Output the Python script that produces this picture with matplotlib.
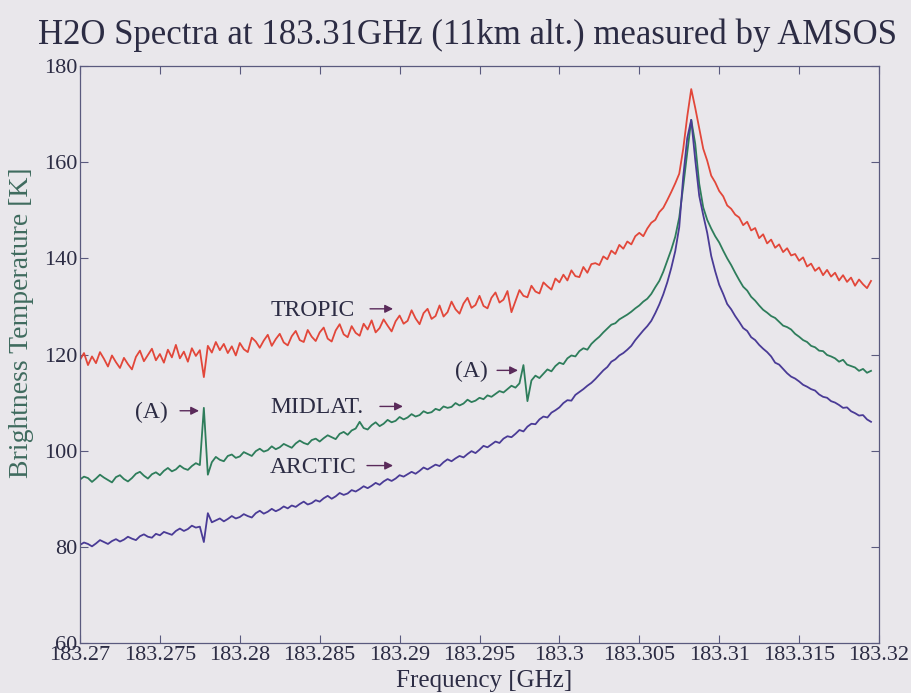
import numpy as np
import matplotlib
matplotlib.use("Agg")
import matplotlib.pyplot as plt

plt.rcParams['font.family'] = ['Liberation Serif', 'DejaVu Serif']

##################### Data ######################
# channel grid: 0.25 MHz spacing starting at 183.27 GHz
n_chan = 199
freq = 183.27 + 0.00025 * np.arange(n_chan)

tropic = [
    118.9, 120.3, 117.8, 119.6, 118.2, 120.5, 119.1, 117.5, 119.8, 118.4,
    117.2, 119.3, 118.0, 116.9, 119.5, 120.8, 118.6, 119.9, 121.2, 118.8,
    120.1, 118.3, 121.0, 119.4, 122.0, 119.2, 120.6, 118.5, 121.3, 119.7,
    120.9, 115.3, 121.8, 120.4, 122.6, 120.9, 122.2, 120.3, 121.7, 119.8,
    122.4, 121.1, 120.5, 123.5, 122.7, 121.4, 122.9, 124.1, 121.8, 123.2,
    124.3, 122.5, 121.9, 123.8, 124.9, 123.0, 122.6, 125.1, 123.7, 122.8,
    124.6, 125.6, 123.3, 122.7, 125.0, 126.3, 124.2, 123.6, 125.9, 124.5,
    123.9, 126.4, 125.2, 127.1, 124.6, 125.5, 127.3, 126.0, 124.8, 126.9,
    128.1, 126.4, 127.0, 129.2, 127.5, 126.3, 128.6, 129.5, 127.4, 128.0,
    130.2, 127.9, 128.8, 131.0, 129.4, 128.5, 130.6, 131.8, 129.7, 130.3,
    132.2, 130.1, 129.6, 131.8, 132.9, 130.8, 131.4, 133.2, 128.8, 131.1,
    133.4, 132.2, 131.9, 134.3, 133.1, 132.7, 135.0, 134.2, 133.5, 135.8,
    135.0, 136.6, 135.4, 137.5, 136.3, 136.1, 138.2, 137.0, 138.8, 139.0,
    138.6, 140.4, 139.8, 141.6, 140.9, 142.8, 142.0, 143.5, 142.9, 144.6,
    145.3, 144.6, 146.2, 147.4, 148.0, 149.6, 150.5, 152.1, 153.8, 155.6,
    157.6, 162.8, 169.5, 175.2, 171.3, 167.0, 162.8, 160.3, 157.2, 155.8,
    154.0, 152.9, 151.0, 150.3, 149.1, 148.5, 146.9, 147.6, 145.8, 146.3,
    144.2, 145.0, 143.1, 143.9, 142.2, 142.9, 141.3, 142.1, 140.6, 140.9,
    139.5, 140.2, 138.3, 138.9, 137.4, 138.1, 136.5, 137.6, 136.2, 137.0,
    135.4, 136.5, 135.1, 136.0, 134.3, 135.6, 134.6, 133.8, 135.3,
]

midlat = [
    94.0, 94.6, 94.3, 93.5, 94.2, 95.0, 94.4, 93.9, 93.4, 94.5,
    94.9, 94.1, 93.6, 94.3, 95.2, 95.6, 94.8, 94.2, 95.1, 95.5,
    94.9, 95.8, 96.4, 95.7, 96.1, 96.9, 96.3, 96.0, 96.8, 97.4,
    97.0, 108.9, 95.0, 97.6, 98.7, 98.1, 97.8, 98.9, 99.2, 98.5,
    98.8, 99.7, 99.3, 98.9, 99.9, 100.4, 99.8, 100.1, 100.9, 100.3,
    100.7, 101.4, 101.0, 100.6, 101.5, 102.1, 101.6, 101.3, 102.2, 102.5,
    101.9, 102.6, 103.2, 102.8, 102.4, 103.5, 103.9, 103.3, 104.2, 104.6,
    106.0, 104.7, 104.4, 105.3, 105.9, 105.1, 105.6, 106.4, 105.9, 106.2,
    107.0, 106.5, 106.9, 107.6, 107.1, 107.4, 108.2, 107.8, 108.0, 108.7,
    108.4, 109.2, 108.9, 109.1, 109.9, 109.4, 109.8, 110.6, 110.1, 110.4,
    111.0, 110.7, 111.5, 111.2, 111.8, 112.4, 112.1, 112.8, 113.5, 113.1,
    114.0, 117.8, 110.3, 114.6, 115.6, 115.1, 116.0, 116.9, 116.5, 117.6,
    118.3, 118.0, 119.2, 119.8, 119.6, 120.7, 121.3, 121.0, 122.2, 123.0,
    123.7, 124.6, 125.4, 126.2, 126.5, 127.3, 127.8, 128.3, 128.9, 129.6,
    130.2, 131.0, 131.6, 132.6, 134.0, 135.3, 137.2, 139.5, 141.8, 144.5,
    148.5, 155.0, 162.0, 168.8, 163.8, 155.5, 150.6, 148.0, 146.2, 144.6,
    143.3, 141.6, 140.0, 138.6, 137.0, 135.5, 134.1, 133.3, 132.0, 131.2,
    130.2, 129.3, 128.7, 128.0, 127.6, 126.8, 126.0, 125.7, 125.2, 124.3,
    123.7, 123.0, 122.6, 121.8, 121.5, 120.8, 120.7, 119.9, 119.6, 119.2,
    118.5, 118.9, 117.9, 117.6, 117.3, 116.6, 117.0, 116.2, 116.6,
]

arctic = [
    80.4, 80.9, 80.6, 80.1, 80.7, 81.4, 81.0, 80.6, 81.2, 81.6,
    81.1, 81.5, 82.1, 81.7, 81.4, 82.2, 82.6, 82.1, 81.9, 82.7,
    82.4, 83.1, 82.8, 82.5, 83.3, 83.8, 83.3, 83.7, 84.4, 84.0,
    84.2, 81.0, 87.0, 85.1, 85.5, 85.9, 85.3, 85.8, 86.4, 85.9,
    86.2, 86.8, 86.4, 86.1, 87.0, 87.5, 86.9, 87.3, 87.9, 87.4,
    87.8, 88.4, 88.0, 88.6, 88.3, 88.9, 89.4, 88.8, 89.1, 89.7,
    89.4, 90.1, 90.6, 90.0, 90.5, 91.2, 90.8, 91.1, 91.8, 91.5,
    92.0, 92.6, 92.2, 92.7, 93.3, 92.9, 93.6, 94.1, 93.7, 94.2,
    94.9, 94.6, 95.1, 95.6, 95.2, 95.8, 96.5, 96.1, 96.6, 97.1,
    96.8, 97.6, 98.2, 97.8, 98.4, 98.9, 98.6, 99.3, 99.9, 99.5,
    100.2, 101.0, 100.7, 101.3, 101.9, 101.6, 102.5, 103.0, 102.8, 103.5,
    104.3, 104.0, 105.0, 105.6, 105.5, 106.5, 107.1, 106.9, 107.9, 108.4,
    109.0, 109.9, 110.5, 110.4, 111.6, 112.2, 112.8, 113.5, 114.1, 114.9,
    115.8, 116.7, 117.4, 118.5, 119.0, 119.8, 120.3, 121.0, 121.8, 123.0,
    124.0, 125.0, 125.9, 127.0, 128.6, 130.4, 132.5, 135.0, 138.0, 141.5,
    146.5, 157.0, 165.0, 168.8, 160.5, 153.0, 149.0, 145.3, 140.5, 137.3,
    134.5, 132.6, 130.5, 129.4, 128.0, 126.8, 125.5, 124.9, 123.6, 123.0,
    122.0, 121.2, 120.5, 119.6, 118.3, 117.9, 117.0, 116.1, 115.4, 115.0,
    114.4, 113.7, 113.3, 112.8, 112.5, 111.7, 111.2, 111.0, 110.3, 110.0,
    109.5, 108.9, 109.0, 108.2, 107.8, 107.3, 107.4, 106.5, 106.0,
]

xticks = [183.27, 183.275, 183.28, 183.285, 183.29, 183.295,
          183.3, 183.305, 183.31, 183.315, 183.32]
xticklabels = ['183.27', '183.275', '183.28', '183.285', '183.29', '183.295',
               '183.3', '183.305', '183.31', '183.315', '183.32']
yticks = [60, 80, 100, 120, 140, 160, 180]

# labels: text, text x, text y, arrow start x, arrow end x
labels = [
    ('TROPIC', 183.2819, 129.2, 183.28815, 183.28959),
    ('MIDLAT.', 183.2819, 108.9, 183.28877, 183.29021),
    ('ARCTIC', 183.2819, 96.6, 183.28796, 183.28959),
    ('(A)', 183.27344, 108.0, 183.27626, 183.27745),
    ('(A)', 183.29347, 116.4, 183.29610, 183.29741),
]

##################### Plot ######################
bg = '#e9e7eb'
txt = '#2c2c44'
frame = '#5a5a7e'

fig = plt.figure(figsize=(9.11, 6.93), dpi=100, facecolor=bg)
ax = fig.add_axes([80 / 911, 1 - 643 / 693, 799 / 911, 577 / 693])
ax.set_facecolor(bg)

ax.plot(freq, tropic, color='#e2473a', lw=1.3)
ax.plot(freq, midlat, color='#2e7d5b', lw=1.3)
ax.plot(freq, arctic, color='#4a3b96', lw=1.3)

ax.set_xlim(183.27, 183.32)
ax.set_ylim(60, 180)
ax.set_xticks(xticks)
ax.set_xticklabels(xticklabels)
ax.set_yticks(yticks)
ax.tick_params(direction='in', length=6, width=0.8, color=frame,
               top=True, right=True, labelsize=16, labelcolor=txt, pad=2)
for s in ax.spines.values():
    s.set_color(frame)
    s.set_linewidth(0.9)

for name, tx, ty, a0, a1 in labels:
    ax.text(tx, ty, name, fontsize=17, color=txt, va='center', ha='left')
    ax.annotate('', xy=(a1, ty + 0.3), xytext=(a0, ty + 0.3),
                arrowprops=dict(arrowstyle='-|>', color='#5a2a5a', lw=1.0,
                                mutation_scale=12, shrinkA=0, shrinkB=0))

fig.text(468 / 911, 1 - 35 / 693, 'H2O Spectra at 183.31GHz (11km alt.) measured by AMSOS',
         fontsize=25, color=txt, ha='center', va='center')
fig.text(484 / 911, 1 - 681 / 693, 'Frequency [GHz]', fontsize=18, color=txt,
         ha='center', va='center')
fig.text(22 / 911, 1 - 323 / 693, 'Brightness Temperature [K]', fontsize=20,
         color='#3f6b5e', ha='center', va='center', rotation=90)

fig.savefig('out.png', dpi=100, facecolor=bg)
